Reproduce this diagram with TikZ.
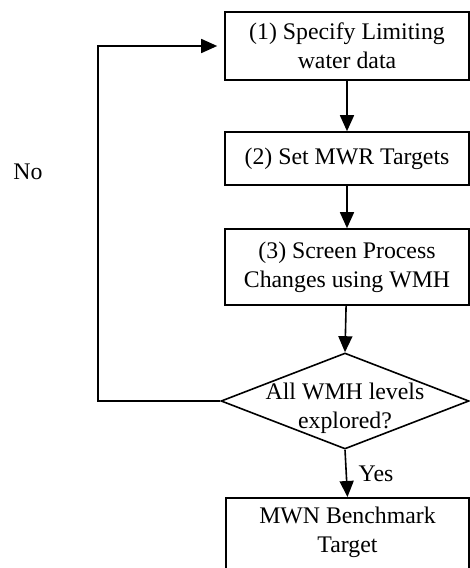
\documentclass[tikz,border=0pt]{standalone}
\usepackage{fontspec}
\setmainfont{Liberation Serif}
\usetikzlibrary{shapes.geometric,arrows.meta}
\begin{document}
\begin{tikzpicture}[x=0.5pt,y=-0.5pt,
  font=\fontsize{11.9}{14.4}\selectfont,
  box/.style={draw, line width=0.8pt, minimum width=122pt, align=center, inner sep=0pt},
  decision/.style={draw, diamond, line width=0.8pt, minimum width=124pt, minimum height=48pt, inner sep=0pt},
  flow/.style={-{Triangle[length=8pt,width=7pt]}, line width=0.8pt}]
\useasboundingbox (0,0) rectangle (470,568);

% process steps
\node[box, minimum height=34pt] (b1) at (347,46) {(1) Specify Limiting\\water data};
\node[box, minimum height=26.5pt] (b2) at (347,158.5) {(2) Set MWR Targets};
\node[box, minimum height=38pt] (b3) at (347,267) {(3) Screen Process\\Changes using WMH};

% decision
\node[decision] (dec) at (345,401) {};
\node[align=center, inner sep=0pt] (dectext) at (345,408) {All WMH levels\\explored?};

% final target (box runs past the lower edge)
\node[box, minimum height=45pt, anchor=north, minimum width=121.5pt] (mwn) at (347.5,497) {};
\node[align=center, inner sep=0pt] (mwntext) at (347.5,532) {MWN Benchmark\\Target};

% connectors
\draw[flow] (b1) -- (b2);
\draw[flow] (b2) -- (b3);
\draw[flow] (b3) -- (dec.north);
\draw[flow] (dec.south) -- node[right, xshift=2.5pt] {Yes} (mwn.north);

\coordinate (loop) at (98,47);
\draw[flow, shorten >=3.5pt] (dec.west) -| (loop) |- (b1.west);
\node (no) at (28,172) {No};
\end{tikzpicture}
\end{document}
